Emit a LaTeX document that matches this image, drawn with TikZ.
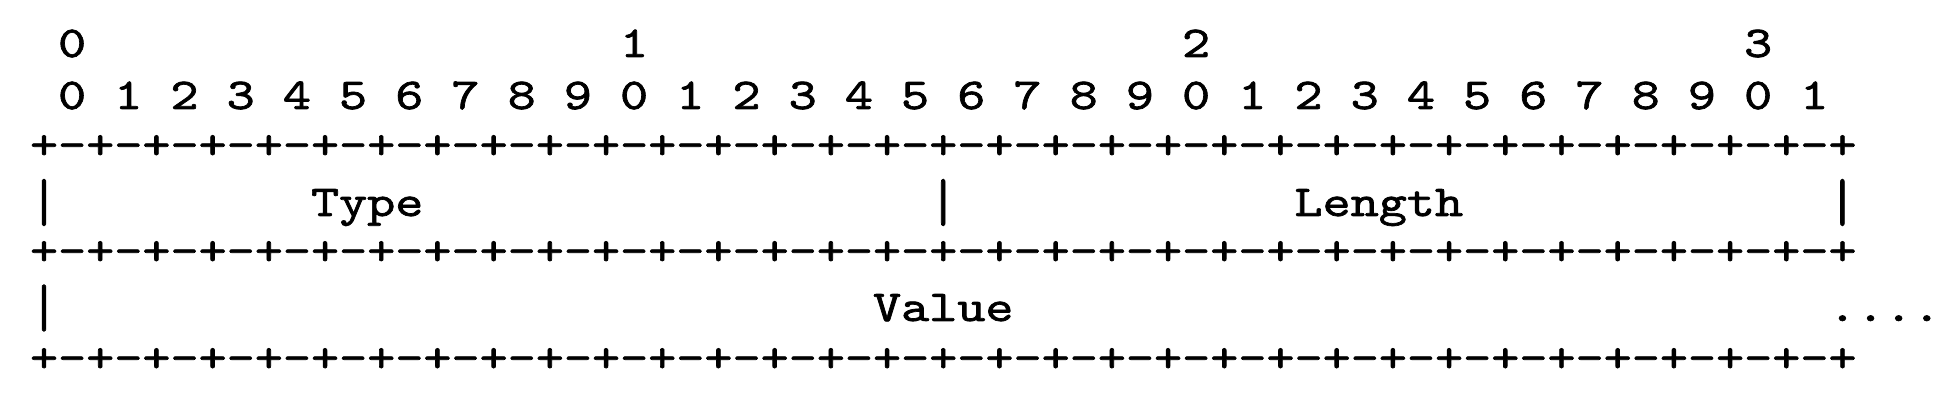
\documentclass[tikz,border=0pt]{standalone}
\usepackage{fontspec}
\newfontfamily\pktfont{lmmono10-regular.otf}[FakeStretch=1.2165, FakeBold=1.6]
\tikzset{
  pkt/.style={font=\pktfont\fontsize{11}{11}\selectfont, inner sep=0pt, outer sep=0pt},
}
\newcommand{\pktrule}{+-+-+-+-+-+-+-+-+-+-+-+-+-+-+-+-+-+-+-+-+-+-+-+-+-+-+-+-+-+-+-+-+}
\newcommand{\pktbar}{\scalebox{1}[1.36]{|}}

\begin{document}
\begin{tikzpicture}[x=0.25pt, y=-0.25pt]
  \useasboundingbox (0,0) rectangle (1938,402);
  % column c has its centre at 44+28.1c
  \foreach \c/\d in {1/0, 21/1, 41/2, 61/3}
    \node[pkt, anchor=base] (dec\d) at ({44+28.1*\c}, 57) {\d};
  \foreach \k in {0,...,31}{
    \pgfmathtruncatemacro{\d}{mod(\k,10)}
    \node[pkt, anchor=base] (bit\k) at ({44+28.1*(2*\k+1)}, 109) {\d};
  }
  \foreach \r/\y in {1/147, 2/253, 3/360}
    \node[pkt, anchor=west] (rule\r) at (30, \y) {\pktrule};
  % first word
  \foreach \c in {0, 32, 64}
    \node[pkt] (bar\c) at ({44+28.1*\c}, 202.5) {\pktbar};
  \node[pkt, anchor=base west] (type) at ({30+28.1*10}, 216) {Type};
  \node[pkt, anchor=base west] (length) at ({30+28.1*45}, 216) {Length};
  % second word
  \node[pkt] (barv) at (44, 308) {\pktbar};
  \node[pkt, anchor=base west] (value) at ({30+28.1*30}, 321) {Value};
  \node[pkt, anchor=base west] (more) at ({30+28.1*64}, 321) {....};
\end{tikzpicture}
\end{document}
